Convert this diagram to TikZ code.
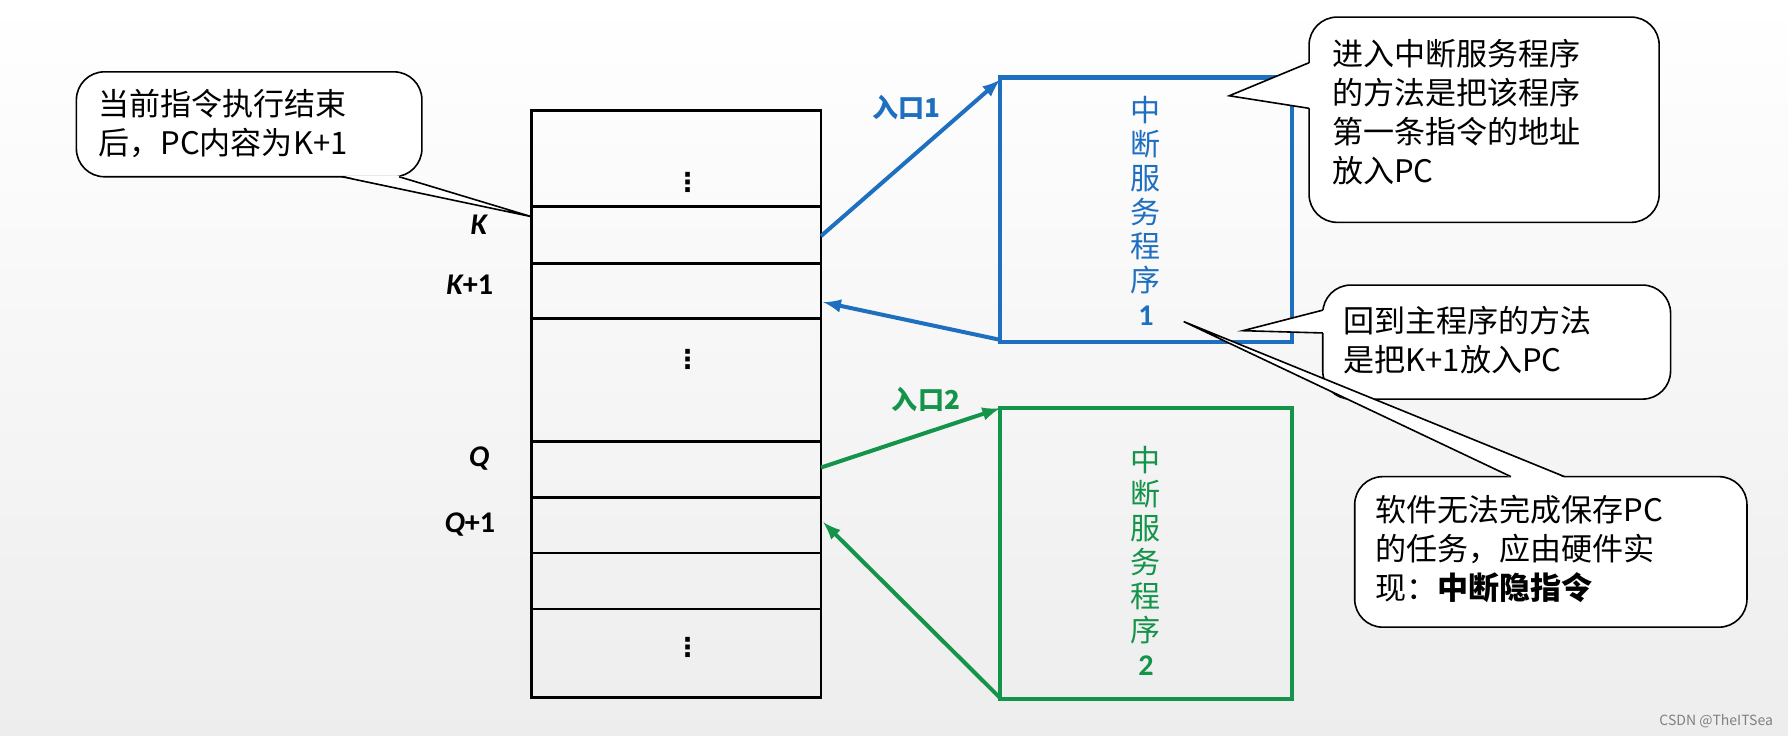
\documentclass[tikz,border=0pt]{standalone}
\usepackage{fontspec}
\setmainfont{Noto Sans CJK SC}
\newfontfamily\latf{Carlito}
\newfontfamily\dejav{DejaVu Sans}
\definecolor{bl}{HTML}{1F6FC0}
\definecolor{gr}{HTML}{14934A}
\begin{document}
\begin{tikzpicture}[x=0.02cm,y=-0.02cm,
  cell/.style={draw,line width=1.4pt},
  call/.style={draw,line width=0.8pt,fill=white,rounded corners=14pt},
  ctext/.style={font=\fontsize{15.5}{19.5}\selectfont,align=left,anchor=north west},
  lab/.style={font=\latf\bfseries\itshape\fontsize{15}{18}\selectfont},
  dots/.style={font=\dejav\bfseries\fontsize{13}{15}\selectfont},
  vt/.style={font=\fontsize{15}{17}\selectfont,align=center}]
\shade[top color=white,bottom color=black!7] (0,0) rectangle (1568,645);
\useasboundingbox (0,0) rectangle (1568,645);
% memory
\draw[cell] (466,97) rectangle (720,612);
\foreach \y in {181,231,279,387,436,485,534} \draw[line width=1.4pt] (466,\y) -- (720,\y);
\node[dots] (d1) at (603,160) {⋮};
\node[dots] (d2) at (603,315) {⋮};
\node[dots] (d3) at (603,568) {⋮};
\node[lab] (lk) at (420,197) {K};
\node[lab] (lk1) at (412,250) {K\upshape+1};
\node[lab] (lq) at (420,402) {Q};
\node[lab] (lq1) at (412,460) {Q\upshape+1};
% ISR boxes
\draw[bl,line width=2.2pt] (877,68) rectangle (1133,300);
\node[vt,bl] (s1) at (1005,185) {中\\断\\服\\务\\程\\序\\\textbf{\latf 1}};
\draw[gr,line width=2.2pt] (877,358) rectangle (1133,613);
\node[vt,gr] (s2) at (1005,492) {中\\断\\服\\务\\程\\序\\\textbf{\latf 2}};
\coordinate (k) at (720,207); \coordinate (e1) at (877,70);
\coordinate (r1) at (877,298); \coordinate (k1) at (722,265);
\draw[bl,line width=2pt,-latex] (k) -- (e1);
\draw[bl,line width=2pt,-latex] (r1) -- (k1);
\node[bl,font=\bfseries\fontsize{13}{15}\selectfont] (en1) at (795,94) {入口1};
\coordinate (q) at (720,410); \coordinate (e2) at (877,358);
\coordinate (r2) at (877,612); \coordinate (q1) at (722,458);
\draw[gr,line width=2pt,-latex] (q) -- (e2);
\draw[gr,line width=2pt,-latex] (r2) -- (q1);
\node[gr,font=\bfseries\fontsize{13}{15}\selectfont] (en2) at (812,350) {入口2};
% callouts
\draw[call] (67,63) rectangle (370,155);
\fill[white] (300,154) -- (466,190) -- (350,154) -- cycle;
\draw[line width=0.8pt] (300,155) -- (466,190) -- (350,155);
\node[ctext] (c1) at (80,72) {当前指令执行结束\\后，PC内容为K+1};
\draw[call] (1148,15) rectangle (1455,195);
\fill[white] (1149,55) -- (1078,84) -- (1149,95) -- cycle;
\draw[line width=0.8pt] (1148,55) -- (1078,84) -- (1148,95);
\node[ctext] (c2) at (1162,28) {进入中断服务程序\\的方法是把该程序\\第一条指令的地址\\放入PC};
\draw[call] (1160,250) rectangle (1465,350);
\fill[white] (1161,272) -- (1090,290) -- (1161,292) -- cycle;
\draw[line width=0.8pt] (1160,272) -- (1090,290) -- (1160,292);
\node[ctext] (c3) at (1172,262) {回到主程序的方法\\是把K+1放入PC};
\draw[call] (1188,418) rectangle (1532,550);
\fill[white] (1325,419) -- (1038,282) -- (1372,419) -- cycle;
\draw[line width=0.8pt] (1325,418) -- (1038,282) -- (1372,418);
\node[ctext] (c4) at (1200,428) {软件无法完成保存PC\\的任务，应由硬件实\\现：\textbf{中断隐指令}};
\node[gray,font=\fontsize{7}{8}\selectfont] (wm) at (1505,632) {CSDN @TheITSea};
\end{tikzpicture}
\end{document}
